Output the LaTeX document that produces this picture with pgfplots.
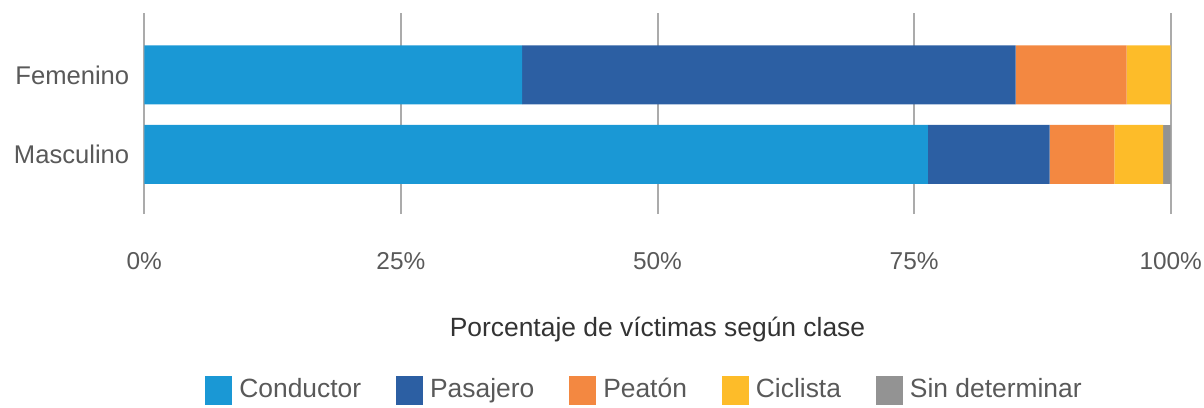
\documentclass[border=0pt]{standalone}
\usepackage{pgfplots}
\pgfplotsset{compat=1.18}
\usepackage{fontspec}
\setmainfont{Liberation Sans}
\definecolor{cCond}{HTML}{1A98D5}
\definecolor{cPas}{HTML}{2C5FA3}
\definecolor{cPea}{HTML}{F38841}
\definecolor{cCic}{HTML}{FDBC29}
\definecolor{cSin}{HTML}{939393}
\definecolor{cGrid}{HTML}{ABABAB}
\definecolor{cText}{HTML}{595959}
\begin{document}
\fontsize{13bp}{15bp}\selectfont
\begin{tikzpicture}
\pgfplotsset{legsq/.style={legend image code/.code={\fill[##1,draw=none] (0bp,-7.25bp) rectangle (13.5bp,7.25bp);}}}
\begin{axis}[
  name=ax,
  scale only axis,
  width=513.2bp, height=100.5bp,
  xbar stacked,
  bar width=29.5bp,
  xmin=0, xmax=100,
  ymin=-0.75, ymax=1.78,
  axis line style={draw=none},
  major tick length=0pt,
  xtick={0,25,50,75,100},
  xticklabels={0\%,25\%,50\%,75\%,100\%},
  ytick={0,1},
  yticklabels={Masculino,Femenino},
  xmajorgrids,
  grid style={color=cGrid, line width=1bp},
  yticklabel style={color=cText, font=\fontsize{12.8bp}{15bp}\selectfont, anchor=east, xshift=-3bp},
  xticklabel style={color=cText, font=\fontsize{12.2bp}{15bp}\selectfont, anchor=base, yshift=-27.5bp},
  xlabel={Porcentaje de víctimas según clase},
  xlabel style={at={(axis description cs:0.5,0)}, anchor=base, yshift=-61bp, color=black!80, font=\fontsize{13.2bp}{15bp}\selectfont},
  legend columns=5,
  legend style={draw=none, fill=none, at={(axis description cs:0.0591,0)}, anchor=west, yshift=-88bp,
    font=\fontsize{13.2bp}{15bp}\selectfont, text=cText,
    /tikz/every even column/.style={column sep=15.5bp},
    /tikz/every odd column/.style={column sep=1.5bp},
    inner sep=0pt},
]
\addplot[fill=cCond, draw=none, legsq] coordinates {(76.35,0) (36.8,1)};
\addplot[fill=cPas, draw=none, legsq] coordinates {(11.85,0) (48.1,1)};
\addplot[fill=cPea, draw=none, legsq] coordinates {(6.3,0) (10.8,1)};
\addplot[fill=cCic, draw=none, legsq] coordinates {(4.75,0) (4.3,1)};
\addplot[fill=cSin, draw=none, legsq] coordinates {(0.75,0) (0,1)};
\legend{Conductor,Pasajero,Peatón,Ciclista,Sin determinar}
\end{axis}
\pgfresetboundingbox
\path[use as bounding box] ([xshift=-72.15bp,yshift=-97bp]ax.south west) rectangle ([xshift=16.65bp,yshift=6.5bp]ax.north east);
\end{tikzpicture}
\end{document}
